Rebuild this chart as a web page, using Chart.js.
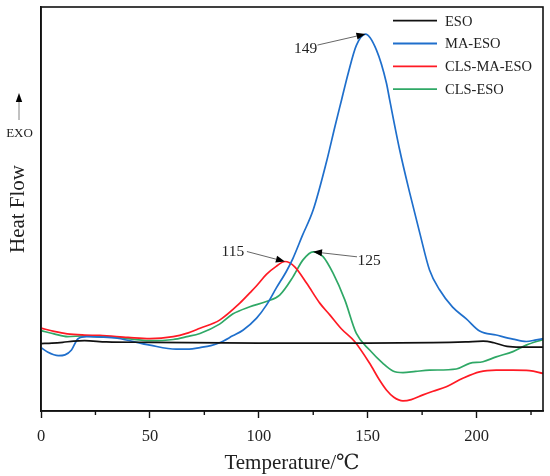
<!DOCTYPE html>
<html><head><meta charset="utf-8">
<script src="https://cdn.jsdelivr.net/npm/chart.js@4.4.0/dist/chart.umd.min.js"></script>
<style>html,body{margin:0;padding:0;background:#fff;}canvas{display:block;}</style>
</head><body>
<canvas id="c" width="550" height="476"></canvas>
<script>
// ---- data (heat flow in arbitrary units) ----
const seriesNames = ['ESO', 'MA-ESO', 'CLS-MA-ESO', 'CLS-ESO'];
const seriesColors = ['#111111', '#1f6fcc', '#ff1a24', '#2fa866'];

const esoT  = [0, 5, 10, 15, 20, 30, 50, 100, 150, 180, 195, 203, 208, 214, 220, 230.5];
const esoHF = [16.7, 16.8, 17.0, 17.3, 17.4, 17.1, 17.0, 16.8, 16.8, 16.9, 17.1, 17.3, 16.9, 16.0, 15.8, 15.8];

const maT  = [0, 3, 8, 11, 14, 17, 21, 28, 35, 50, 62, 68, 73, 78, 82, 88, 92.7, 99, 103.5, 108, 112.7, 115.7, 120, 125, 131, 135, 138, 141, 144.8, 149, 154, 158.6, 160.1, 164.7, 169.3, 173.9, 178.4, 183, 189, 195.3, 201.4, 209, 216.7, 222.8, 227.4, 230.5];
const maHF = [15.7, 14.6, 13.7, 13.9, 15.1, 17.9, 18.4, 18.3, 18.0, 16.3, 15.3, 15.3, 15.7, 16.2, 16.9, 18.6, 20.0, 23.0, 26.2, 30.4, 34.6, 37.8, 43.4, 49.8, 61.5, 70.5, 77.0, 83.5, 90.5, 93.3, 89.4, 81.2, 77.0, 64.6, 54.0, 44.1, 34.9, 30.0, 25.7, 22.8, 19.8, 18.8, 17.8, 17.2, 17.6, 17.9];

const clsMaT  = [0, 6, 12, 20, 27, 40, 50, 60.7, 66.8, 73, 82, 91.3, 96, 99, 103.5, 108, 112, 116.5, 122, 128, 132.6, 138, 144, 150.9, 155.5, 158.6, 162, 166.2, 170, 175.4, 180, 186.1, 193.7, 201.4, 209, 216.7, 224.3, 230.5];
const clsMaHF = [20.5, 19.7, 19.1, 18.8, 18.7, 18.2, 17.9, 18.4, 19.2, 20.5, 22.5, 26.7, 29.3, 31.0, 33.8, 35.8, 37.0, 35.7, 31.6, 26.7, 23.8, 20.3, 17.2, 11.8, 7.6, 5.2, 3.4, 2.5, 2.8, 4.0, 4.9, 6.0, 8.1, 9.7, 10.1, 10.1, 10.0, 9.3];

const clsT  = [0, 6, 12.2, 19.4, 27, 34.7, 50, 60.7, 67, 73, 82, 88, 95.9, 103.5, 109.6, 115.7, 120.3, 124.9, 129.5, 134.1, 139.5, 144.8, 150.9, 157, 161.6, 166.2, 172, 178.4, 190.7, 196.8, 202.9, 209, 216.7, 222.8, 230.5];
const clsHF = [19.9, 19.1, 18.4, 18.6, 18.4, 18.2, 17.4, 17.7, 18.4, 19.2, 21.5, 24.0, 25.8, 27.1, 28.7, 33.2, 37.4, 39.4, 38.2, 34.1, 27.5, 19.2, 15.1, 11.8, 9.9, 9.5, 9.8, 10.1, 10.4, 11.8, 12.2, 13.4, 14.7, 16.3, 17.7];

const xMin = 0, xMax = 230.5, xStep = 25, xLabelStep = 50;
const yMin = 0, yMax = 100;
const peakLabels = ['149', '115', '125'];
const peakSeries = [1, 2, 3];

const seriesT  = [esoT, maT, clsMaT, clsT];
const seriesHF = [esoHF, maHF, clsMaHF, clsHF];

const FONT = "'Liberation Serif', 'DejaVu Serif', serif";

function toPoints(ts, vs) { return ts.map((t, i) => ({ x: t, y: vs[i] })); }

const datasets = seriesNames.map((name, i) => ({
  label: name,
  data: toPoints(seriesT[i], seriesHF[i]),
  borderColor: seriesColors[i],
  backgroundColor: seriesColors[i],
  borderWidth: 1.7,
  pointRadius: 0,
  fill: false,
  cubicInterpolationMode: 'monotone'
}));

function drawArrow(ctx, x0, y0, x1, y1, lineColor, headLen, headHalf) {
  const ang = Math.atan2(y1 - y0, x1 - x0);
  const bx = x1 - headLen * Math.cos(ang), by = y1 - headLen * Math.sin(ang);
  ctx.save();
  ctx.strokeStyle = lineColor; ctx.lineWidth = 0.9;
  ctx.beginPath(); ctx.moveTo(x0, y0); ctx.lineTo(bx, by); ctx.stroke();
  ctx.fillStyle = '#000';
  ctx.beginPath();
  ctx.moveTo(x1, y1);
  ctx.lineTo(bx + headHalf * Math.sin(ang), by - headHalf * Math.cos(ang));
  ctx.lineTo(bx - headHalf * Math.sin(ang), by + headHalf * Math.cos(ang));
  ctx.closePath(); ctx.fill();
  ctx.restore();
}

const decor = {
  id: 'decor',
  afterDraw(chart) {
    const { ctx, chartArea: a, scales: { x, y } } = chart;
    ctx.save();
    // frame
    ctx.strokeStyle = '#111'; ctx.lineWidth = 1.6;
    ctx.strokeRect(a.left, a.top, a.right - a.left, a.bottom - a.top);
    // minor ticks
    ctx.lineWidth = 1.4;
    x.ticks.forEach(t => {
      if (t.value % xLabelStep !== 0) {
        const px = x.getPixelForValue(t.value);
        ctx.beginPath(); ctx.moveTo(px, a.bottom); ctx.lineTo(px, a.bottom + 4); ctx.stroke();
      }
    });
    // legend
    ctx.font = '14.5px ' + FONT;
    ctx.textBaseline = 'middle'; ctx.textAlign = 'left';
    chart.data.datasets.forEach((ds, i) => {
      const ly = a.top + 13.7 + i * 22.8;
      ctx.strokeStyle = ds.borderColor; ctx.lineWidth = 1.8;
      ctx.beginPath(); ctx.moveTo(a.right - 150, ly); ctx.lineTo(a.right - 106, ly); ctx.stroke();
      ctx.fillStyle = '#222';
      ctx.fillText(ds.label, a.right - 98, ly + 1);
    });
    // peak annotations
    const offs = [
      { dx: -48, dy: 11, tx: -60, ty: 15 },
      { dx: -38, dy: -10, tx: -52, ty: -10 },
      { dx: 44, dy: 5, tx: 56, ty: 9 }
    ];
    ctx.font = '15.5px ' + FONT;
    ctx.textAlign = 'center';
    peakLabels.forEach((lab, k) => {
      const pts = chart.data.datasets[peakSeries[k]].data;
      let best = pts[0];
      pts.forEach(p => { if (p.y > best.y) best = p; });
      const px = x.getPixelForValue(best.x), py = y.getPixelForValue(best.y);
      const o = offs[k];
      drawArrow(ctx, px + o.dx, py + o.dy, px, py, '#555', 9, 3.5);
      ctx.fillStyle = '#222';
      ctx.fillText(lab, px + o.tx, py + o.ty);
    });
    // EXO marker
    const ex = 19;
    drawArrow(ctx, ex, 120, ex, 93, '#777', 9, 3.2);
    ctx.font = '13px ' + FONT;
    ctx.fillStyle = '#222';
    ctx.fillText('EXO', ex + 0.5, 134);
    ctx.restore();
  }
};

new Chart(document.getElementById('c'), {
  type: 'line',
  data: { datasets },
  options: {
    responsive: false,
    animation: false,
    layout: { padding: { top: 7, right: 7, left: 0, bottom: 0 } },
    plugins: { legend: { display: false }, tooltip: { enabled: false } },
    scales: {
      x: {
        type: 'linear', min: xMin, max: xMax,
        afterFit: s => { s.height = 65; },
        ticks: {
          stepSize: xStep, includeBounds: false, autoSkip: false, maxRotation: 0,
          padding: 9, color: '#222', font: { family: FONT, size: 16.5 },
          callback: v => (v % xLabelStep === 0 ? String(v) : '')
        },
        grid: {
          display: true, drawOnChartArea: false, drawTicks: true, tickLength: 7, tickWidth: 1.4,
          tickColor: c => (c.tick && c.tick.value % xLabelStep === 0 ? '#111' : 'rgba(0,0,0,0)')
        },
        border: { display: true, color: '#111', width: 1.6 },
        title: { display: true, text: 'Temperature/℃', color: '#222', font: { family: FONT, size: 21 }, padding: { top: 0, bottom: 0 } }
      },
      y: {
        type: 'linear', min: yMin, max: yMax,
        afterFit: s => { s.width = 41; },
        ticks: { display: false },
        grid: { display: false, drawTicks: false },
        border: { display: true, color: '#111', width: 1.6 },
        title: { display: true, text: 'Heat Flow', color: '#222', font: { family: FONT, size: 21 }, padding: { top: 6, bottom: 0 } }
      }
    }
  },
  plugins: [decor]
});
</script>
</body></html>
